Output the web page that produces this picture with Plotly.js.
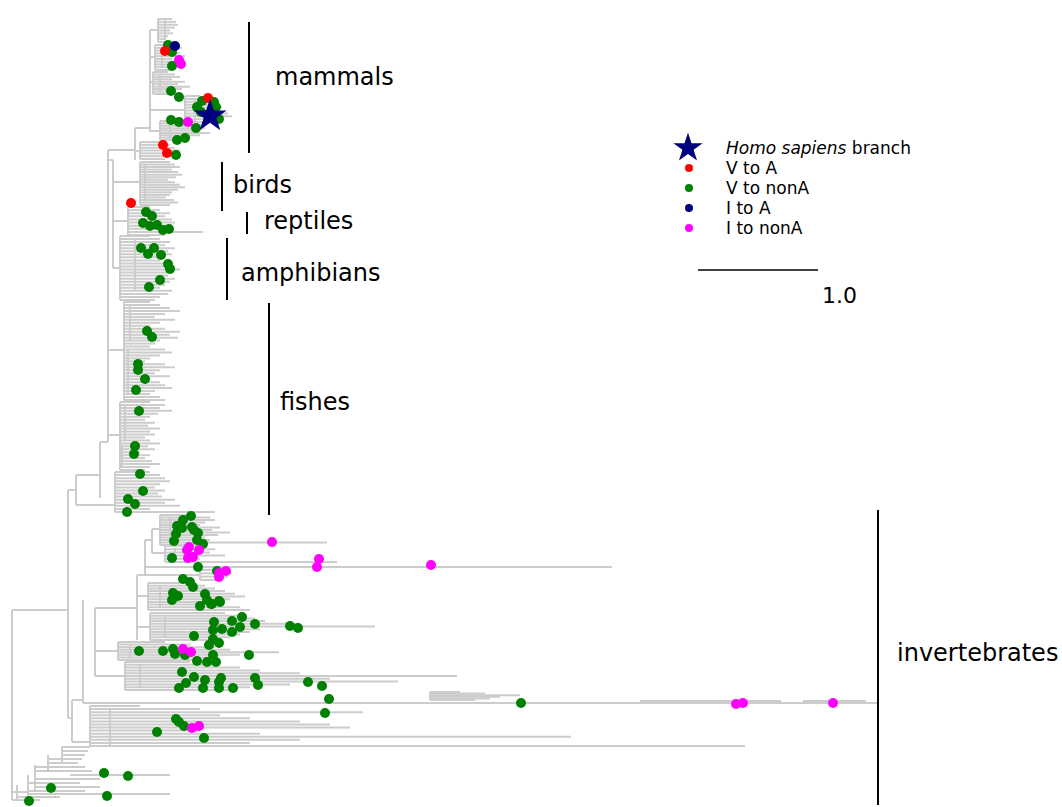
<!DOCTYPE html>
<html><head><meta charset="utf-8">
<script src="https://cdn.plot.ly/plotly-3.0.1.min.js"></script>
<style>html,body{margin:0;padding:0;background:#fff}#chart{width:1062px;height:807px}</style>
</head><body><div id="chart"></div>
<script>
// ---------- tree: internal vertical branches (depth, top row, bottom row) ----------
const vBranchX      = [12, 68, 76, 100, 108, 113, 135, 150, 72, 83, 95, 137, 145, 152, 17, 28, 35, 48, 62,
                       130, 128, 125, 122, 145, 135, 165, 162, 160, 195, 170, 170, 175, 160, 165, 130, 140, 110];
const vBranchTop    = [610, 490, 475, 442, 150, 160, 128, 30, 700, 600, 608, 575, 540, 529, 785, 775, 765, 755, 747,
                       305, 350, 405, 445, 165, 240, 20, 48, 75, 98, 123, 518, 548, 586, 615, 645, 665, 710];
const vBranchBottom = [800, 718, 505, 498, 442, 268, 160, 132, 742, 703, 676, 640, 575, 553, 800, 797, 791, 771, 763,
                       340, 395, 440, 468, 200, 290, 40, 68, 92, 122, 138, 543, 560, 608, 638, 658, 688, 745];

// ---------- tree: horizontal branches (row, from depth, to depth) ----------
const hBranchY    = [610, 490, 475, 505, 442, 435, 350, 268, 221, 182, 160, 150, 151, 128, 30, 57, 82, 110, 131,
                     718, 700, 742, 703, 608, 676, 651, 627, 596, 575, 540, 567, 575, 529, 553, 701, 701,
                     792, 800, 797, 794, 791, 787, 783, 779, 775, 771, 767, 763, 759, 755, 751, 747];
const hBranchFrom = [12, 68, 76, 76, 100, 108, 108, 113, 113, 113, 108, 108, 135, 135, 150, 150, 150, 150, 150,
                     68, 72, 72, 83, 95, 95, 95, 137, 137, 137, 145, 145, 145, 152, 152, 640, 803,
                     12, 12, 17, 28, 28, 35, 28, 35, 70, 35, 35, 48, 48, 62, 62, 62];
const hBranchTo   = [68, 76, 100, 115, 108, 120, 124, 120, 128, 140, 113, 135, 140, 150, 158, 155, 153, 185, 160,
                     72, 83, 90, 878, 137, 125, 118, 150, 148, 145, 152, 612, 200, 160, 165, 781, 866,
                     28, 40, 60, 170, 85, 100, 80, 100, 170, 92, 85, 78, 82, 85, 88, 90];

// ---------- clades drawn as combs of tips ----------
const cladeNodeX  = [158, 155, 153, 185, 160, 140, 140, 128, 120, 124, 120, 115, 160, 165, 200, 148, 150, 118, 125, 430, 90];
const cladeTop    = [19, 45, 72, 96, 121, 142, 162, 207, 236, 302, 402, 472, 515, 546, 570, 583, 613, 642, 662, 692, 706];
const cladeBottom = [42, 70, 94, 125, 140, 159, 205, 235, 300, 400, 470, 512, 545, 562, 580, 610, 640, 660, 690, 700, 746];
const mammalTopTips   = [172, 176, 178, 175, 170, 173, 168, 165, 170];
const mammalATips     = [178, 182, 176, 180, 185, 172, 178, 183, 176, 170];
const mammalBTips     = [168, 175, 180, 172, 185, 178, 190, 182, 176, 170];
const primateTips     = [200, 212, 218, 215, 222, 210, 228, 232, 220, 214, 205];
const mammalCTips     = [180, 190, 200, 205, 195, 210, 200, 190, 185];
const mammalDTips     = [160, 170, 175, 180, 172, 168, 165];
const birdTips        = [170, 175, 180, 172, 178, 182, 176, 168, 175, 180, 185, 178, 172, 170, 166, 174, 178, 170];
const reptileTips     = [150, 160, 170, 165, 172, 175, 170, 168, 203, 165];
const amphibianTips   = [150, 160, 170, 165, 175, 168, 172, 165, 160, 170, 175, 180, 172, 168, 175, 170, 165, 160, 172, 168, 160, 155];
const fishATips       = [150, 160, 170, 180, 165, 155, 175, 160, 150, 165, 180, 170, 178, 160, 155, 150, 165, 172, 160, 150, 145, 165, 175, 160, 155, 170, 150, 160, 165, 172, 155, 150, 160, 165];
const fishBTips       = [150, 165, 160, 172, 158, 150, 145, 155, 148, 160, 150, 155, 145, 150, 160, 148, 155, 140, 150, 145, 152, 160, 150, 145];
const fishCTips       = [150, 160, 165, 170, 160, 155, 165, 158, 162, 175, 165, 180, 150, 215];
const invATips        = [195, 210, 215, 205, 200, 220, 212, 230, 218, 205, 210, 327, 200];
const invBTips        = [205, 215, 210, 225, 200, 337];
const invCTips        = [222, 232, 228, 220];
const invDTips        = [190, 205, 215, 225, 235, 245, 230, 220, 210, 240, 250];
const invETips        = [225, 240, 255, 265, 300, 375, 260, 250, 240, 230, 220];
const invFTips        = [165, 190, 215, 230, 279, 240, 210, 200];
const invGTips        = [190, 215, 240, 260, 300, 457, 330, 398, 290, 250, 230];
const invLongSubTips  = [460, 485, 520, 500, 490, 475];
const invHTips        = [140, 200, 363, 220, 250, 300, 330, 350, 200, 260, 571, 300, 250, 745];
const cladeTips = [mammalTopTips, mammalATips, mammalBTips, primateTips, mammalCTips, mammalDTips, birdTips,
                   reptileTips, amphibianTips, fishATips, fishBTips, fishCTips, invATips, invBTips, invCTips,
                   invDTips, invETips, invFTips, invGTips, invLongSubTips, invHTips];

// ---------- substitution events (depth, row) ----------
const vToAX = [165, 208, 163, 167, 131];
const vToAY = [51, 98, 145, 153, 203];
const iToAX = [175];
const iToAY = [46];
const iToNonAX = [179, 181, 188, 189, 187, 199, 193, 188, 272, 319, 317, 431, 219, 226, 219, 183, 191, 192, 199, 736, 743, 833];
const iToNonAY = [60, 64, 122, 547, 550, 550, 557, 558, 542, 559, 567, 565, 573, 571, 577, 649, 652, 728, 726, 704, 703, 703];
const vToNonAX = [168,172,172,171,179,202,214,216,197,201,219,171,179,196,185,177,176,
  146,152,143,150,157,163,169,141,148,154,161,168,170,160,149,
  147,152,138,138,145,136,139,135,134,140,143,128,135,127,
  191,183,177,182,192,194,198,176,174,197,203,172,198,217,183,190,193,173,178,172,205,207,200,211,219,212,220,
  214,232,242,255,290,298,213,222,232,240,194,213,209,219,
  139,163,173,175,185,213,249,197,207,216,
  182,194,205,221,219,255,258,308,322,186,179,203,219,233,
  329,325,521,176,179,184,157,204,
  104,128,51,107,29];
const vToNonAY = [45,52,66,91,97,101,102,107,107,112,119,120,122,128,138,140,155,
  212,216,223,226,225,230,229,248,254,248,255,264,269,280,287,
  331,337,364,370,379,390,411,446,454,474,491,499,504,512,
  516,520,526,528,527,530,533,534,541,540,544,558,567,571,579,582,587,593,596,600,594,600,606,604,601,604,602,
  622,621,617,624,626,628,630,629,632,627,636,639,645,643,
  651,651,649,654,655,655,655,661,662,662,
  672,677,680,678,682,678,685,682,686,683,688,688,688,688,
  699,713,703,719,722,726,732,738,
  773,776,788,796,801];
const humanX = [210];
const humanY = [116];

// ---------- labels ----------
const groupNames   = ['mammals', 'birds', 'reptiles', 'amphibians', 'fishes', 'invertebrates'];
const groupBarX    = [249, 222, 247, 227, 269, 878];
const groupBarTop  = [22, 162, 212, 238, 303, 510];
const groupBarBot  = [153, 211, 234, 300, 515, 805];
const groupLabelX  = [273, 231, 262, 239, 278, 895];
const groupLabelY  = [77, 185, 221, 273, 402, 653];
const legendNames  = ['<i>Homo sapiens</i> branch', 'V to A', 'V to nonA', 'I to A', 'I to nonA'];
const scaleBarLength = 1.0;

// ---------- build gray tree lines ----------
const gx = [], gy = [];
for (let i = 0; i < vBranchX.length; i++) { gx.push(vBranchX[i], vBranchX[i], null); gy.push(vBranchTop[i], vBranchBottom[i], null); }
for (let i = 0; i < hBranchY.length; i++) { gx.push(hBranchFrom[i], hBranchTo[i], null); gy.push(hBranchY[i], hBranchY[i], null); }
for (let c = 0; c < cladeTips.length; c++) {
  const tips = cladeTips[c], n = tips.length, x0 = cladeNodeX[c];
  const t = cladeTop[c], b = cladeBottom[c];
  gx.push(x0, x0, null); gy.push(t, b, null);
  for (let k = 0; k < n; k++) {
    const yy = n > 1 ? t + k * (b - t) / (n - 1) : t;
    gx.push(x0, tips[k], null); gy.push(yy, yy, null);
  }
}

const legendRowY = [148, 168, 188, 208, 228];
const traces = [
  {x: gx, y: gy, mode: 'lines', line: {color: '#cccccc', width: 2}, hoverinfo: 'skip', showlegend: false},
  {x: vToNonAX, y: vToNonAY, mode: 'markers', marker: {color: '#008000', size: 10}, showlegend: false},
  {x: vToAX, y: vToAY, mode: 'markers', marker: {color: '#ff0000', size: 10}, showlegend: false},
  {x: iToAX, y: iToAY, mode: 'markers', marker: {color: '#000080', size: 10}, showlegend: false},
  {x: iToNonAX, y: iToNonAY, mode: 'markers', marker: {color: '#ff00ff', size: 10}, showlegend: false},
  {x: humanX, y: humanY, mode: 'markers', marker: {color: '#000080', size: 25, symbol: 'star'}, showlegend: false},
  // legend markers
  {x: [688], y: [legendRowY[0]], mode: 'markers', marker: {color: '#000080', size: 22, symbol: 'star'}, showlegend: false},
  {x: [689, 689, 689, 689], y: legendRowY.slice(1), mode: 'markers',
   marker: {color: ['#ff0000', '#008000', '#000080', '#ff00ff'], size: 8}, showlegend: false}
];

const shapes = [];
for (let i = 0; i < groupNames.length; i++) {
  shapes.push({type: 'line', xref: 'x', yref: 'y', x0: groupBarX[i], x1: groupBarX[i], y0: groupBarTop[i], y1: groupBarBot[i],
               line: {color: '#000', width: 2}});
}
shapes.push({type: 'line', xref: 'x', yref: 'y', x0: 698, x1: 698 + 120 * scaleBarLength, y0: 270, y1: 270, line: {color: '#000', width: 1.6}});

const font = 'DejaVu Sans, Verdana, sans-serif';
const annotations = [];
for (let i = 0; i < groupNames.length; i++) {
  annotations.push({x: groupLabelX[i], y: groupLabelY[i], xref: 'x', yref: 'y', text: groupNames[i], showarrow: false,
                    xanchor: 'left', yanchor: 'middle', font: {family: font, size: 24, color: '#000'}});
}
for (let i = 0; i < legendNames.length; i++) {
  annotations.push({x: 725, y: legendRowY[i], xref: 'x', yref: 'y', text: legendNames[i], showarrow: false,
                    xanchor: 'left', yanchor: 'middle', borderpad: 0,
                    font: {family: font, size: 17, color: '#000'}});
}
annotations.push({x: 839, y: 295, xref: 'x', yref: 'y', text: scaleBarLength.toFixed(1), showarrow: false,
                  xanchor: 'center', yanchor: 'middle', font: {family: font, size: 22, color: '#000'}});

const layout = {
  width: 1062, height: 807, margin: {l: 0, r: 0, t: 0, b: 0},
  paper_bgcolor: '#fff', plot_bgcolor: '#fff',
  xaxis: {range: [0, 1062], visible: false, fixedrange: true},
  yaxis: {range: [807, 0], visible: false, fixedrange: true},
  shapes: shapes, annotations: annotations, showlegend: false
};
Plotly.newPlot('chart', traces, layout, {staticPlot: true, displayModeBar: false});
</script></body></html>
